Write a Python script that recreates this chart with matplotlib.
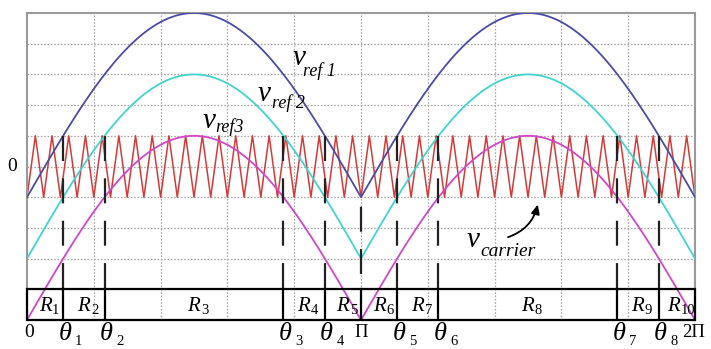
import numpy as np
import matplotlib
matplotlib.use("Agg")
import matplotlib.pyplot as plt
from matplotlib.patches import Rectangle

# ---- data ----
ref_names = ["ref1", "ref 2", "ref3"]
ref_peaks = [5.0, 3.0, 1.0]        # level at theta = pi/2, 3pi/2
ref_troughs = [-1.0, -3.0, -5.0]   # level at 0, pi, 2pi
carrier_levels = [-1.0, 1.0]
carrier_periods = 40
thetas = [0.34, 0.73, 2.41, 2.80, 3.48, 3.87, 5.55, 5.94]
region_subs = ["1", "2", "3", "4", "5", "6", "7", "8", "9", "10"]
theta_subs = ["1", "2", "3", "4", "5", "6", "7", "8"]

# ---- style ----
ref_colors = ["#4b4ba8", "#40d4cf", "#cf48c8"]
carrier_color = "#d43a3a"
serif = "Liberation Serif"
plt.rcParams["lines.scale_dashes"] = False

fig = plt.figure(figsize=(7.11, 3.49), dpi=100)
ax = fig.add_axes([27 / 711, 29 / 349, 668 / 711, 307 / 349])
X0, X1 = 0.0, 2 * np.pi
ax.set_xlim(X0, X1)
ax.set_ylim(-5, 5)
ax.set_xticks([])
ax.set_yticks([])
for s in ax.spines.values():
    s.set_color("#9a9a9a")
    s.set_linewidth(1.5)

# grid
for yv in range(-4, 5):
    ax.axhline(yv, color="#a8a8a8", lw=0.9, ls=(0, (1.2, 1.2)), zorder=0)
for k in range(1, 10):
    ax.axvline(k * np.pi / 5, color="#a8a8a8", lw=0.9, ls=(0, (1.2, 1.2)), zorder=0)

# reference curves (rectified sines between trough and peak)
x = np.linspace(X0, X1, 2000)
for pk, tr, col in zip(ref_peaks, ref_troughs, ref_colors):
    ax.plot(x, tr + (pk - tr) * np.abs(np.sin(x)), color=col, lw=1.3, zorder=3)

# triangular carrier
n_vert = 2 * carrier_periods + 1
cx = np.linspace(X0, X1, n_vert)
cy = np.array([carrier_levels[i % 2] for i in range(n_vert)])
ax.plot(cx, cy, color=carrier_color, lw=1.1, zorder=2)

# dashed theta lines
for th in thetas:
    ax.plot([th, th], [1, -4], color="#222222", lw=1.6, ls=(0, (18, 12.5)), zorder=5)
ax.plot([np.pi, np.pi], [-1, -4], color="#222222", lw=1.6, ls=(23.5, (18, 12.5)), zorder=5)

# region box
ax.add_patch(Rectangle((X0, -5), X1 - X0, 1, fill=False, ec="black", lw=1.6,
                       zorder=6, clip_on=False))
bounds = [X0] + thetas[:4] + [np.pi] + thetas[4:] + [X1]
for b in bounds[1:-1]:
    ax.plot([b, b], [-5, -4], color="black", lw=1.6, zorder=6)

px = (X1 - X0) / 668.0   # data units per pixel (x)
for i, sub in enumerate(region_subs):
    c = 0.5 * (bounds[i] + bounds[i + 1]) - (len(sub) - 1) * 3.5 * px
    ax.text(c, -4.72, "R", fontfamily=serif, style="italic", fontsize=15,
            ha="center", va="baseline", zorder=7)
    ax.text(c + 7.0 * px, -4.82, sub, fontfamily=serif, fontsize=10.5,
            ha="left", va="baseline", zorder=7)

# x labels
ax.text(2 * px, -5.54, "0", fontfamily=serif, fontsize=14, ha="center",
        va="baseline", clip_on=False)
for th, sub in zip(thetas, theta_subs):
    ax.text(th + 2 * px, -5.66, "\u03b8", fontfamily=serif, style="italic",
            fontsize=19, ha="center", va="baseline", clip_on=False)
    ax.text(th + 12 * px, -5.80, sub, fontfamily=serif, fontsize=10.5,
            ha="left", va="baseline", clip_on=False)
ax.text(np.pi, -5.54, "\u03a0", fontfamily=serif, fontsize=13.5, ha="center",
        va="baseline", clip_on=False)
ax.text(X1 - 1 * px, -5.54, "2\u03a0", fontfamily=serif, fontsize=13.5,
        ha="center", va="baseline", clip_on=False)

# y label
ax.text(-15 * px, 0, "0", fontfamily=serif, fontsize=14, ha="center",
        va="center", clip_on=False)

# curve labels
def vlabel(xv, yv, xs, ys, sub, size=21, subsize=13):
    ax.text(xv, yv, "v", fontfamily=serif, style="italic", fontsize=size,
            ha="left", va="baseline", zorder=8)
    ax.text(xs, ys, sub, fontfamily=serif, style="italic", fontsize=subsize,
            ha="left", va="baseline", zorder=8)

vlabel(2.502, 3.29, 2.596, 2.96, "ref 1")
vlabel(2.173, 2.12, 2.304, 1.89, "ref 2")
vlabel(1.655, 1.27, 1.768, 1.11, "ref3")
vlabel(4.139, -2.61, 4.261, -2.90, "carrier", subsize=14)

ax.annotate("", xy=(4.81, -1.15), xytext=(4.50, -2.33),
            arrowprops=dict(arrowstyle="-|>,head_length=0.55,head_width=0.25",
                            color="black", lw=1.3,
                            connectionstyle="arc3,rad=0.3"), zorder=8)

fig.savefig("out.png", dpi=100)
